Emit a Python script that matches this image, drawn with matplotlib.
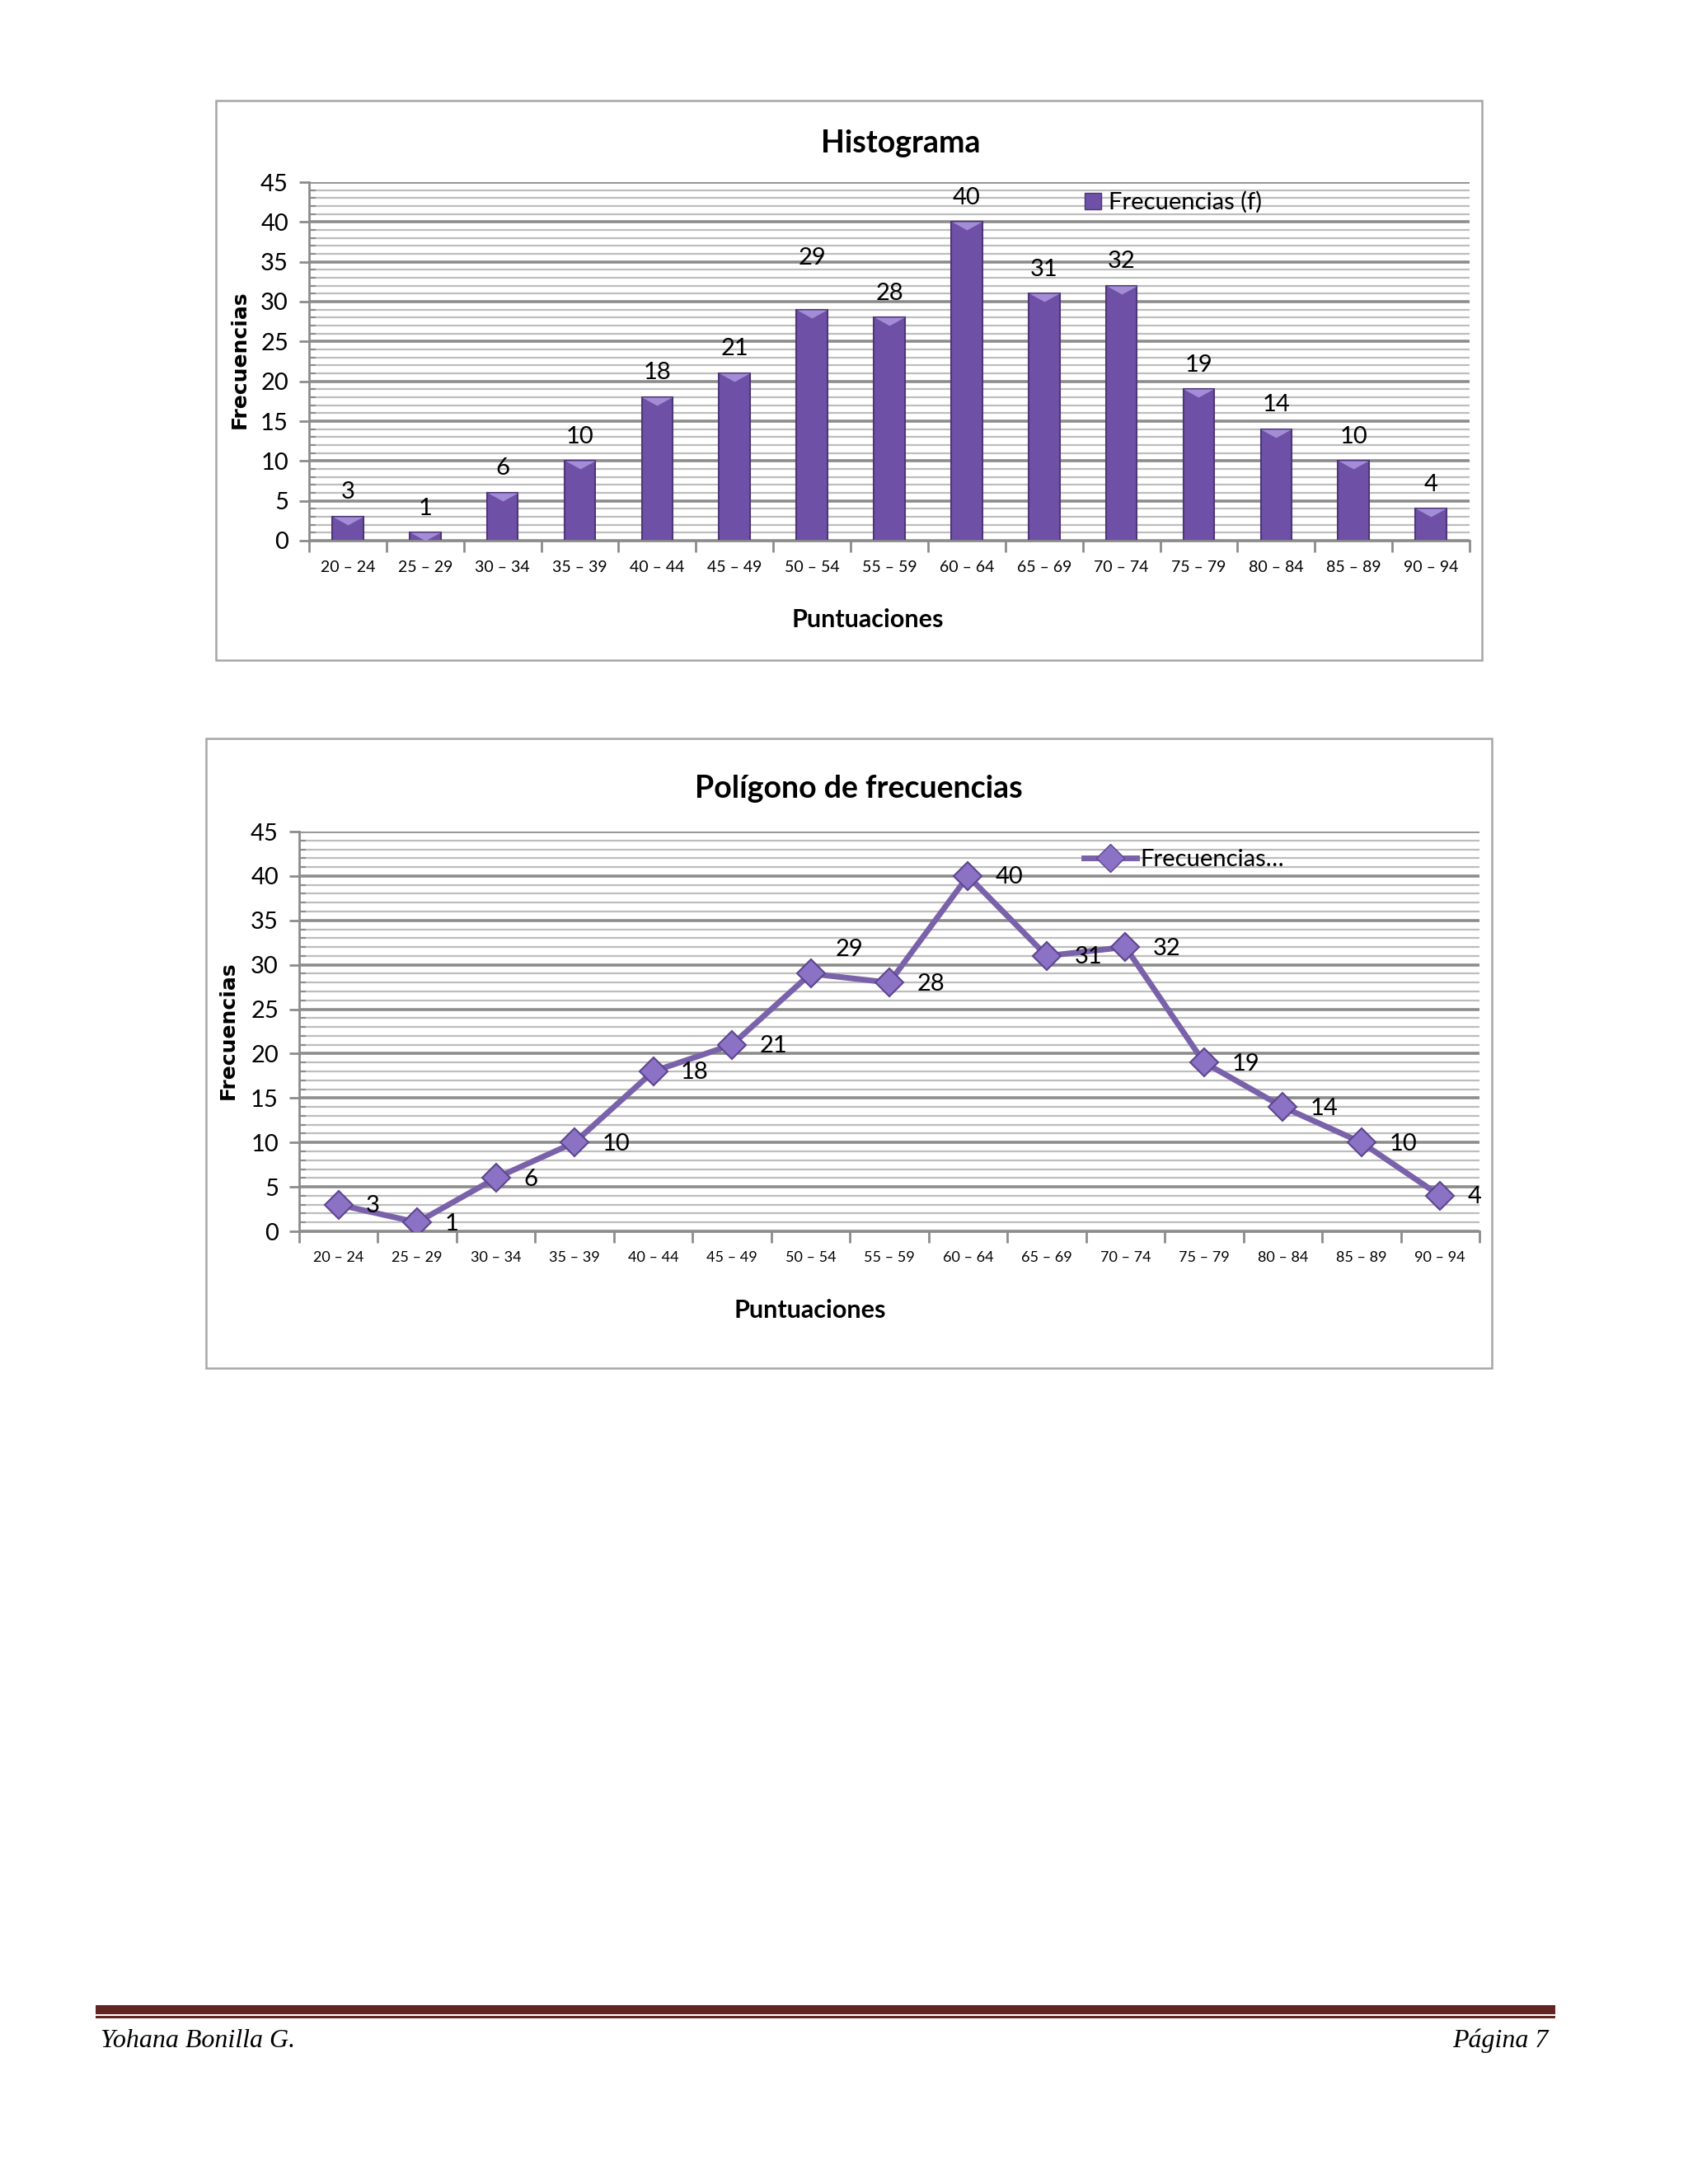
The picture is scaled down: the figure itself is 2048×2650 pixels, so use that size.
import matplotlib
matplotlib.use("Agg")
import matplotlib.pyplot as plt
from matplotlib.patches import Rectangle
from matplotlib.lines import Line2D
from matplotlib.ticker import MultipleLocator

plt.rcParams["font.family"] = ["Lato", "DejaVu Sans"]

# data
intervals = ["20 – 24", "25 – 29", "30 – 34", "35 – 39", "40 – 44", "45 – 49",
             "50 – 54", "55 – 59", "60 – 64", "65 – 69", "70 – 74", "75 – 79",
             "80 – 84", "85 – 89", "90 – 94"]
frecuencias = [3, 1, 6, 10, 18, 21, 29, 28, 40, 31, 32, 19, 14, 10, 4]

W, H = 2048, 2650
fig = plt.figure(figsize=(W / 100, H / 100), dpi=100)
fig.patch.set_facecolor("white")


def fx(px):
    return px / W


def fy(py):
    return 1 - py / H


def box(x0, y0, x1, y1):
    fig.add_artist(Rectangle((fx(x0), fy(y1)), fx(x1 - x0), (y1 - y0) / H,
                             transform=fig.transFigure, fill=False,
                             edgecolor="#a6a6a6", linewidth=1.8))


def style_axes(ax, xfs):
    x = range(len(intervals))
    ax.set_xlim(-0.5, len(intervals) - 0.5)
    ax.set_ylim(0, 45)
    ax.yaxis.set_major_locator(MultipleLocator(5))
    ax.yaxis.set_minor_locator(MultipleLocator(1))
    ax.grid(which="minor", axis="y", color="#bdbdbd", linewidth=1.6)
    ax.grid(which="major", axis="y", color="#8c8c8c", linewidth=2.6)
    ax.set_axisbelow(True)
    for s in ["top", "right"]:
        ax.spines[s].set_visible(False)
    for s in ["left", "bottom"]:
        ax.spines[s].set_color("#8c8c8c")
        ax.spines[s].set_linewidth(2)
    ax.tick_params(axis="y", which="major", labelsize=21, length=9, width=2,
                   color="#8c8c8c", pad=9)
    ax.tick_params(axis="y", which="minor", direction="in", length=6, width=1.5,
                   color="#8c8c8c")
    # category labels centred, tick marks at the boundaries
    ax.set_xticks(list(x))
    ax.set_xticklabels(intervals, fontsize=xfs)
    ax.tick_params(axis="x", which="major", length=0, pad=17)
    ax.set_xticks([i - 0.5 for i in range(len(intervals) + 1)], minor=True)
    ax.tick_params(axis="x", which="minor", length=10, width=2, color="#8c8c8c")


# ---------------- Histograma ----------------
box(262, 122, 1798, 801)
ax1 = fig.add_axes([fx(375), fy(656), fx(1783 - 375), (656 - 221) / H])
style_axes(ax1, 14)
bars = ax1.bar(range(len(intervals)), frecuencias, width=0.4, color="#6e51a6",
               edgecolor="#4e3679", linewidth=1.5, label="Frecuencias (f)")
# light bevel on top of each bar
bevel = [(-1, 0), (1, 0), (0, -0.55), (-1, 0)]
ax1.scatter(range(len(intervals)), frecuencias, marker=bevel, s=26 ** 2,
            color="#a38dd6", zorder=3, linewidths=0)
for i, v in enumerate(frecuencias):
    dy = 36 if v == 29 else 12
    ax1.annotate(str(v), (i, v), xytext=(0, dy), textcoords="offset points",
                 ha="center", va="bottom", fontsize=21)
ax1.legend(handles=[Rectangle((0, 0), 1, 1, facecolor="#6e51a6",
                              edgecolor="#4e3679")],
           labels=["Frecuencias (f)"], loc="center left",
           bbox_to_anchor=(0.668, 0.943), frameon=False, fontsize=21,
           handlelength=0.7, handleheight=0.7, handletextpad=0.3,
           borderpad=0, borderaxespad=0)
fig.text(fx(1093), fy(174), "Histograma", ha="center", va="center",
         fontsize=27, fontweight="bold")
fig.text(fx(1053), fy(752), "Puntuaciones", ha="center", va="center",
         fontsize=22, fontweight="bold")
fig.text(fx(291), fy(436), "Frecuencias", ha="center", va="center",
         fontsize=18, fontweight="bold", rotation=90, family="DejaVu Sans")

# ---------------- Polígono de frecuencias ----------------
box(250, 896, 1810, 1660)
ax2 = fig.add_axes([fx(363), fy(1494), fx(1795 - 363), (1494 - 1009) / H])
style_axes(ax2, 13)
ax2.plot(range(len(intervals)), frecuencias, color="#7a62aa", linewidth=5,
         marker="D", markersize=17, markerfacecolor="#8b72c4",
         markeredgecolor="#5d4590", markeredgewidth=1.5, zorder=3)
for i, v in enumerate(frecuencias):
    if v == 29:
        ax2.annotate(str(v), (i, v), xytext=(22, 12), textcoords="offset points",
                     ha="left", va="bottom", fontsize=21)
    else:
        ax2.annotate(str(v), (i, v), xytext=(24, -1), textcoords="offset points",
                     ha="left", va="center", fontsize=21)
ax2.legend(handles=[Line2D([0], [0], color="#7a62aa", linewidth=5, marker="D",
                           markersize=17, markerfacecolor="#8b72c4",
                           markeredgecolor="#5d4590")],
           labels=["Frecuencias…"], loc="center left",
           bbox_to_anchor=(0.665, 0.93), frameon=False, fontsize=21,
           handlelength=2.2, handletextpad=0.15, borderpad=0, borderaxespad=0)
fig.text(fx(1042), fy(957), "Polígono de frecuencias", ha="center", va="center",
         fontsize=27, fontweight="bold")
fig.text(fx(983), fy(1590), "Puntuaciones", ha="center", va="center",
         fontsize=22, fontweight="bold")
fig.text(fx(277), fy(1250), "Frecuencias", ha="center", va="center",
         fontsize=18, fontweight="bold", rotation=90, family="DejaVu Sans")

# ---------------- footer ----------------
fig.add_artist(Rectangle((fx(116), fy(2444)), fx(1887 - 116), 11 / H,
                         transform=fig.transFigure, color="#632523", lw=0))
fig.add_artist(Rectangle((fx(116), fy(2449)), fx(1887 - 116), 3 / H,
                         transform=fig.transFigure, color="#632523", lw=0))
fig.text(fx(122), fy(2476), "Yohana Bonilla G.", ha="left", va="center",
         fontsize=23, style="italic", family="Liberation Serif")
fig.text(fx(1879), fy(2476), "Página 7", ha="right", va="center",
         fontsize=23, style="italic", family="Liberation Serif")

fig.savefig("out.png", dpi=100)
